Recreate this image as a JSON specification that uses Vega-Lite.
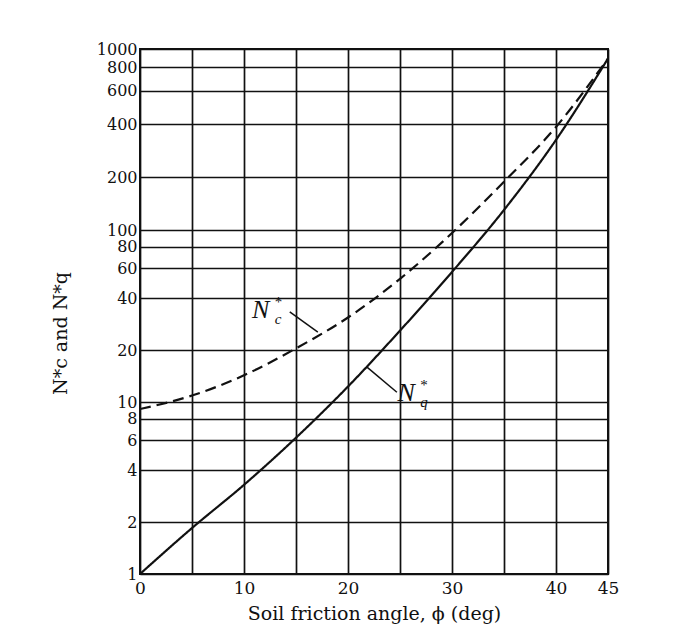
{
  "$schema": "https://vega.github.io/schema/vega-lite/v6.json",
  "width": 468,
  "height": 525,
  "autosize": {"type": "none"},
  "padding": {"left": 140, "top": 49, "right": 72, "bottom": 67},
  "background": "white",
  "config": {
    "view": {"stroke": "#111", "strokeWidth": 2},
    "font": "DejaVu Serif"
  },
  "datasets": {
    "curves": [
      {"factor": "Nc*", "phi": 0, "N": 9.1},
      {"factor": "Nc*", "phi": 5, "N": 10.9},
      {"factor": "Nc*", "phi": 10, "N": 14.3},
      {"factor": "Nc*", "phi": 15, "N": 20.5},
      {"factor": "Nc*", "phi": 20, "N": 31},
      {"factor": "Nc*", "phi": 25, "N": 52},
      {"factor": "Nc*", "phi": 30, "N": 96},
      {"factor": "Nc*", "phi": 35, "N": 188},
      {"factor": "Nc*", "phi": 40, "N": 385},
      {"factor": "Nc*", "phi": 45, "N": 890},
      {"factor": "Nq*", "phi": 0, "N": 1},
      {"factor": "Nq*", "phi": 5, "N": 1.85},
      {"factor": "Nq*", "phi": 10, "N": 3.3},
      {"factor": "Nq*", "phi": 15, "N": 6.2},
      {"factor": "Nq*", "phi": 20, "N": 12.3},
      {"factor": "Nq*", "phi": 25, "N": 26},
      {"factor": "Nq*", "phi": 30, "N": 57},
      {"factor": "Nq*", "phi": 35, "N": 130},
      {"factor": "Nq*", "phi": 40, "N": 325},
      {"factor": "Nq*", "phi": 45, "N": 890}
    ],
    "labels": [
      {"phi": 11.6, "N": 34.3, "main": "N", "star": "*", "sub": "c"},
      {"phi": 25.6, "N": 11.3, "main": "N", "star": "*", "sub": "q"}
    ],
    "leaders": [
      {"phi": 14.4, "N": 33.4, "phi2": 17.1, "N2": 25.5},
      {"phi": 24.7, "N": 11.4, "phi2": 21.8, "N2": 16.0}
    ]
  },
  "layer": [
    {
      "data": {"name": "curves"},
      "mark": {"type": "line", "interpolate": "monotone", "strokeWidth": 2.2, "color": "#111", "clip": true},
      "encoding": {
        "x": {
          "field": "phi", "type": "quantitative",
          "scale": {"domain": [0, 45], "nice": false, "zero": false},
          "axis": {
            "title": "Soil friction angle, ϕ (deg)",
            "values": [0, 5, 10, 15, 20, 25, 30, 35, 40, 45],
            "labelExpr": "datum.value % 10 == 0 || datum.value == 45 ? datum.label : ''",
            "grid": true, "gridColor": "#111", "gridWidth": 1.7, "gridOpacity": 1,
            "domain": false, "ticks": false, "tickSize": 0,
            "labelPadding": 6, "labelFlush": false, "labelOverlap": false,
            "labelFont": "DejaVu Serif", "labelFontSize": 17, "labelColor": "#111",
            "titleFont": "DejaVu Serif", "titleFontSize": 19, "titleFontWeight": "normal", "titleColor": "#111",
            "titlePadding": 8
          }
        },
        "y": {
          "field": "N", "type": "quantitative",
          "scale": {"type": "log", "domain": [1, 10, 100, 400, 1000], "range": [525, 353, 181, 75, 0], "nice": false},
          "axis": {
            "title": "N*c and N*q",
            "values": [1, 2, 4, 6, 8, 10, 20, 40, 60, 80, 100, 200, 400, 600, 800, 1000],
            "format": "d",
            "grid": true, "gridColor": "#111", "gridWidth": 1.7, "gridOpacity": 1,
            "domain": false, "ticks": false, "tickSize": 0,
            "labelPadding": 3, "labelFlush": false, "labelOverlap": false,
            "labelFont": "DejaVu Serif", "labelFontSize": 16, "labelColor": "#111",
            "titleFont": "DejaVu Serif", "titleFontSize": 19, "titleFontWeight": "normal", "titleColor": "#111",
            "titleX": -70, "titleY": 284
          }
        },
        "strokeDash": {
          "field": "factor", "type": "nominal",
          "scale": {"domain": ["Nc*", "Nq*"], "range": [[11, 6], [1, 0]]},
          "legend": null
        }
      }
    },
    {
      "data": {"name": "leaders"},
      "mark": {"type": "rule", "color": "#111", "strokeWidth": 1.5},
      "encoding": {
        "x": {"field": "phi", "type": "quantitative"},
        "x2": {"field": "phi2"},
        "y": {"field": "N", "type": "quantitative"},
        "y2": {"field": "N2"}
      }
    },
    {
      "data": {"name": "labels"},
      "mark": {"type": "text", "font": "Liberation Serif", "fontStyle": "italic", "fontSize": 26, "color": "#111", "align": "center", "baseline": "middle"},
      "encoding": {
        "x": {"field": "phi", "type": "quantitative"},
        "y": {"field": "N", "type": "quantitative"},
        "text": {"field": "main"}
      }
    },
    {
      "data": {"name": "labels"},
      "mark": {"type": "text", "font": "Liberation Serif", "fontSize": 15, "color": "#111", "align": "left", "baseline": "middle", "dx": 14, "dy": -8},
      "encoding": {
        "x": {"field": "phi", "type": "quantitative"},
        "y": {"field": "N", "type": "quantitative"},
        "text": {"field": "star"}
      }
    },
    {
      "data": {"name": "labels"},
      "mark": {"type": "text", "font": "Liberation Serif", "fontStyle": "italic", "fontSize": 15, "color": "#111", "align": "left", "baseline": "middle", "dx": 14, "dy": 9},
      "encoding": {
        "x": {"field": "phi", "type": "quantitative"},
        "y": {"field": "N", "type": "quantitative"},
        "text": {"field": "sub"}
      }
    }
  ]
}
